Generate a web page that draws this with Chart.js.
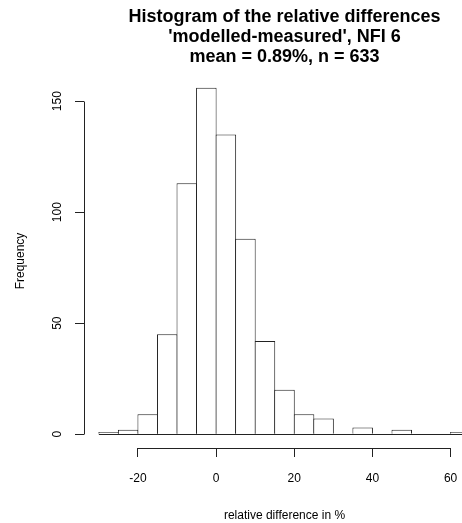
<!DOCTYPE html>
<html><head><meta charset="utf-8">
<script src="https://cdn.jsdelivr.net/npm/chart.js@4/dist/chart.umd.min.js"></script>
<style>
html,body{margin:0;padding:0;background:#fff;overflow:hidden;width:462px;height:523px}
#wrap{position:relative;width:516px;height:523px}
</style>
</head><body><div id="wrap"><canvas id="c"></canvas></div>
<script>
const titleLines = ["Histogram of the relative differences", "'modelled-measured', NFI 6", "mean = 0.89%, n = 633"];
const xAxisTitle = "relative difference in %";
const yAxisTitle = "Frequency";
const binEdges = [-30,-25,-20,-15,-10,-5,0,5,10,15,20,25,30,35,40,45,50,55,60,65];
const counts = [1,2,9,45,113,156,135,88,42,20,9,7,0,3,0,2,0,0,1];
const xTicks = [-20,0,20,40,60];
const yTicks = [0,50,100,150];

const FAMILY = "'Liberation Sans', Arial, sans-serif";
const LINE = '#222';

function align(v){ return Math.round(v - 0.5) + 0.5; }

const rAxes = {
  id: 'rAxes',
  afterDatasetsDraw(chart){
    const {ctx, chartArea, scales:{x, y}} = chart;
    ctx.save();
    ctx.strokeStyle = LINE; ctx.lineWidth = 1;
    const y0 = align(y.getPixelForValue(0));
    ctx.beginPath();
    ctx.moveTo(x.getPixelForValue(binEdges[0]), y0);
    ctx.lineTo(x.getPixelForValue(binEdges[binEdges.length-1]), y0);
    ctx.stroke();
    const xb = align(chartArea.bottom);
    ctx.beginPath();
    ctx.moveTo(align(x.getPixelForValue(xTicks[0])), xb);
    ctx.lineTo(align(x.getPixelForValue(xTicks[xTicks.length-1])), xb);
    ctx.stroke();
    const yl = align(chartArea.left);
    ctx.beginPath();
    ctx.moveTo(yl, align(y.getPixelForValue(yTicks[0])));
    ctx.lineTo(yl, align(y.getPixelForValue(yTicks[yTicks.length-1])));
    ctx.stroke();
    ctx.restore();
  }
};

new Chart(document.getElementById('c'), {
  type: 'bar',
  data: {
    datasets: [{
      data: counts.map((c, i) => ({x: (binEdges[i] + binEdges[i+1]) / 2, y: c})),
      backgroundColor: '#fff',
      borderColor: LINE,
      borderWidth: 1,
      borderSkipped: 'start',
      barPercentage: 1.051,
      categoryPercentage: 1
    }]
  },
  options: {
    responsive: true, maintainAspectRatio: false, animation: false, devicePixelRatio: 1,
    layout: {padding: {left: 0, right: 31, top: 0, bottom: 0}},
    plugins: {
      legend: {display: false}, tooltip: {enabled: false},
      title: {display: true, text: titleLines, fullSize: false, align: 'center', color: '#000',
        font: {family: FAMILY, size: 18, weight: 'bold', lineHeight: '20px'},
        padding: {top: 7, bottom: 7}}
    },
    scales: {
      x: {
        type: 'linear', min: -33.8, max: 68.8, offset: false,
        afterBuildTicks: s => { s.ticks = xTicks.map(v => ({value: v})); },
        afterFit: s => { s.height = 75; },
        grid: {drawOnChartArea: false, drawTicks: true, tickLength: 9, color: LINE, lineWidth: 1, offset: false},
        border: {display: false},
        ticks: {color: '#000', font: {family: FAMILY, size: 12}, padding: 14, maxRotation: 0, autoSkip: false},
        title: {display: true, text: xAxisTitle, color: '#000', font: {family: FAMILY, size: 12}, padding: {top: 0, bottom: 0}}
      },
      y: {
        min: -6.24, max: 162.24,
        afterBuildTicks: s => { s.ticks = yTicks.map(v => ({value: v})); },
        afterFit: s => { s.width = 84; },
        grid: {drawOnChartArea: false, drawTicks: true, tickLength: 9, color: LINE, lineWidth: 1},
        border: {display: false},
        ticks: {color: '#000', font: {family: FAMILY, size: 12}, padding: 7, minRotation: 90, maxRotation: 90, crossAlign: 'center', autoSkip: false},
        title: {display: true, text: yAxisTitle, color: '#000', font: {family: FAMILY, size: 12}, padding: {top: 13, bottom: 0}}
      }
    }
  },
  plugins: [rAxes]
});
</script>
</body></html>
